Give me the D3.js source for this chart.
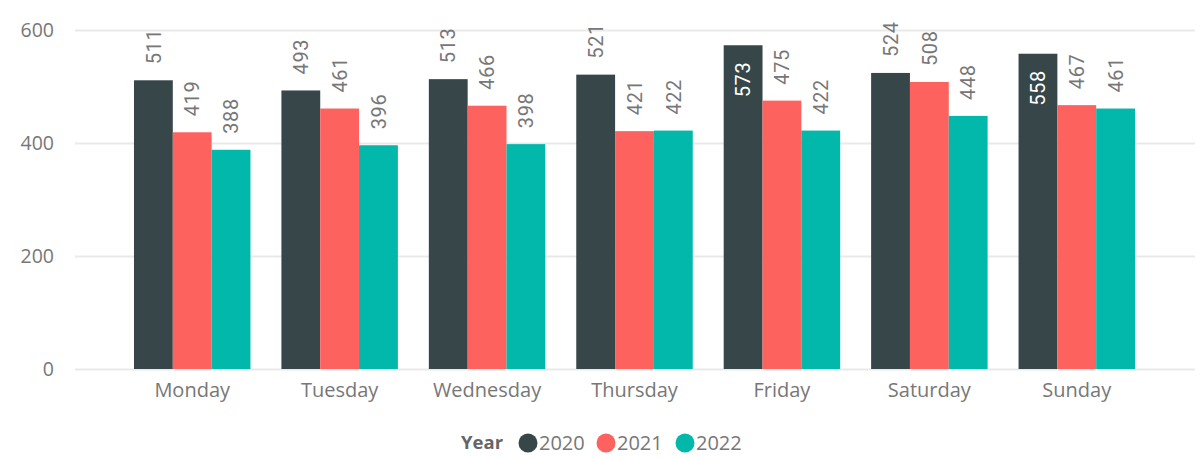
<!DOCTYPE html>
<html>
<head>
<meta charset="utf-8">
<script src="https://cdn.jsdelivr.net/npm/d3@7"></script>
<style>
    body { margin: 0; background: #fff; }
    svg { display: block; font-family: "Open Sans", "Noto Sans", sans-serif; }
</style>
</head>
<body>
<script>
    "use strict";

    // data
    var days = ["Monday", "Tuesday", "Wednesday", "Thursday", "Friday", "Saturday", "Sunday"];
    var years = ["2020", "2021", "2022"];
    var values2020 = [511, 493, 513, 521, 573, 524, 558];
    var values2021 = [419, 461, 466, 421, 475, 508, 467];
    var values2022 = [388, 396, 398, 422, 422, 448, 461];
    var yTicks = [0, 200, 400, 600];
    var colors = ["#374649", "#FD625E", "#01B8AA"];

    var series = [values2020, values2021, values2022];
    var rows = [];
    days.forEach(function (day, i) {
        years.forEach(function (year, j) {
            rows.push({day: day, year: year, value: series[j][i]});
        });
    });

    var width = 1200, height = 459;
    var svg = d3.select("body").append("svg")
        .attr("width", width)
        .attr("height", height);

    var x = d3.scaleBand()
        .domain(days)
        .range([118.5, 1150.5])
        .paddingInner(0.21)
        .paddingOuter(0.105);

    var xInner = d3.scaleBand()
        .domain(years)
        .range([0, x.bandwidth()]);

    var y = d3.scaleLinear()
        .domain([0, 600])
        .range([369, 30]);

    var color = d3.scaleOrdinal().domain(years).range(colors);

    // gridlines + y labels
    var yAxis = svg.append("g")
        .attr("transform", "translate(75,0)")
        .call(d3.axisRight(y).tickValues(yTicks).tickSize(1120).tickPadding(0).tickFormat(""));
    yAxis.select(".domain").remove();
    yAxis.selectAll(".tick line").attr("stroke", "#e9e9e9").attr("stroke-width", 2);

    svg.append("g").selectAll("text")
        .data(yTicks)
        .join("text")
        .attr("x", 54)
        .attr("y", function (d) { return y(d); })
        .attr("dy", "0.35em")
        .attr("text-anchor", "end")
        .attr("fill", "#777")
        .attr("font-size", 19.5)
        .text(function (d) { return d; });

    // bars
    var bars = svg.append("g");
    bars.selectAll("rect")
        .data(rows)
        .join("rect")
        .attr("x", function (d) { return x(d.day) + xInner(d.year); })
        .attr("y", function (d) { return y(d.value); })
        .attr("width", xInner.bandwidth())
        .attr("height", function (d) { return y(0) - y(d.value); })
        .attr("fill", function (d) { return color(d.year); });

    // value labels, rotated; inside the bar when no room above
    var labelLen = 34;
    function fitsAbove(d) {
        return y(d.value) - 16 - labelLen >= 15;
    }
    svg.append("g").selectAll("text")
        .data(rows)
        .join("text")
        .attr("transform", function (d) {
            var cx = x(d.day) + xInner(d.year) + xInner.bandwidth() / 2;
            var top = y(d.value);
            var ty = fitsAbove(d) ? top - 16 : top + 18 + labelLen;
            return "translate(" + cx + "," + ty + ") rotate(-90)";
        })
        .attr("dy", "0.36em")
        .attr("font-family", "Roboto, sans-serif")
        .attr("font-size", 20)
        .attr("letter-spacing", 0.6)
        .attr("fill", function (d) { return fitsAbove(d) ? "#777" : "#fff"; })
        .text(function (d) { return d.value; });

    // x labels
    svg.append("g").selectAll("text")
        .data(days)
        .join("text")
        .attr("x", function (d) { return x(d) + x.bandwidth() / 2; })
        .attr("y", 397)
        .attr("text-anchor", "middle")
        .attr("fill", "#777")
        .attr("font-size", 20)
        .text(function (d) { return d; });

    // legend
    var legend = svg.append("g").attr("transform", "translate(0,443)");
    legend.append("text")
        .attr("x", 461)
        .attr("dy", "0.35em")
        .attr("font-weight", "bold")
        .attr("font-size", 18.5)
        .attr("fill", "#666")
        .text("Year");
    var legendX = [528, 606, 685];
    years.forEach(function (year, i) {
        legend.append("circle")
            .attr("cx", legendX[i])
            .attr("r", 9.5)
            .attr("fill", color(year));
        legend.append("text")
            .attr("x", legendX[i] + 11)
            .attr("dy", "0.35em")
            .attr("font-size", 20)
            .attr("fill", "#777")
            .text(year);
    });
</script>
</body>
</html>
